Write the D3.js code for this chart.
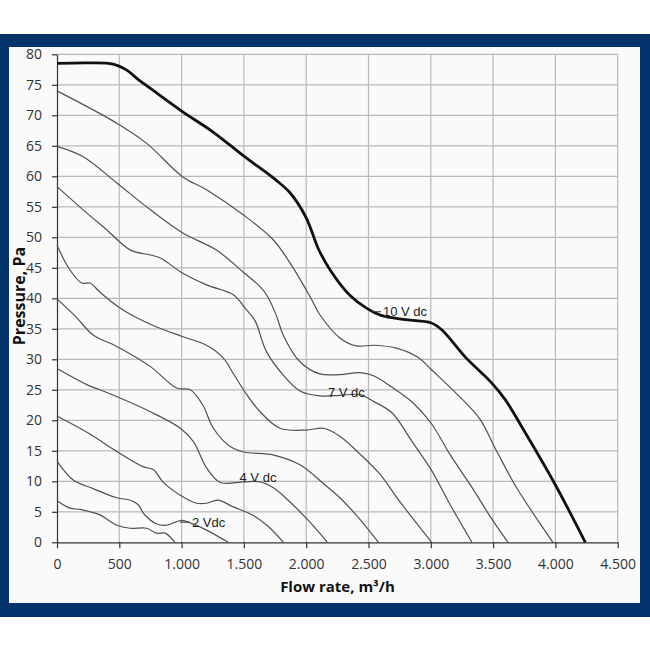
<!DOCTYPE html>
<html>
<head>
<meta charset="utf-8">
<script src="https://cdn.jsdelivr.net/npm/d3@7"></script>
<style>
  html, body { margin: 0; padding: 0; background: #ffffff; }
  svg { display: block; }
</style>
</head>
<body>
<svg id="chart" width="650" height="650"></svg>
<script>
// ---- Data: [flow rate m3/h, pressure Pa] ----
const v10 = [[0,78.5],[250,78.6],[450,78.4],[560,77.4],[650,75.9],[750,74.4],[1000,70.7],[1250,67.3],[1500,63.3],[1750,59.5],[1870,57.3],[2000,53.2],[2100,48.0],[2200,44.4],[2350,40.5],[2490,38.3],[2600,37.2],[2800,36.5],[3000,36.0],[3090,34.8],[3275,30.4],[3490,26.1],[3600,23.3],[3760,17.9],[4000,9.4],[4240,0]];
const v9  = [[0,74.0],[480,68.7],[720,65.4],[1010,59.9],[1200,57.8],[1500,53.6],[1735,49.6],[1870,45.8],[2030,40.3],[2110,37.3],[2270,33.5],[2400,32.2],[2550,32.3],[2730,31.8],[2900,30.3],[3000,28.4],[3210,24.3],[3390,20.3],[3530,14.9],[3690,8.9],[3980,0]];
const v8  = [[0,64.9],[210,63.2],[480,58.9],[750,54.5],[1010,50.7],[1280,47.9],[1500,44.2],[1630,41.9],[1690,40.3],[1760,37.2],[1815,34.0],[1950,29.6],[2110,27.6],[2270,27.5],[2430,27.8],[2540,27.3],[2690,25.4],[2850,23.0],[3000,19.6],[3160,14.2],[3330,9.0],[3490,3.8],[3620,0]];
const v7  = [[0,58.3],[210,54.5],[400,51.2],[590,47.9],[750,47.1],[830,46.6],[1010,44.1],[1200,42.2],[1415,40.6],[1510,38.4],[1590,36.3],[1680,31.3],[1816,27.4],[1950,24.8],[2110,24.0],[2270,24.1],[2430,24.2],[2540,23.1],[2690,21.2],[2850,16.5],[3000,12.0],[3160,6.0],[3330,0]];
const v6  = [[0,48.7],[105,44.6],[200,42.5],[265,42.5],[345,41.0],[506,38.4],[640,36.8],[800,35.3],[1010,33.7],[1200,32.3],[1335,30.2],[1420,27.5],[1510,24.6],[1630,21.4],[1790,18.7],[2000,18.4],[2140,18.7],[2270,17.4],[2430,14.5],[2590,11.2],[2750,6.7],[3007,0]];
const v5  = [[0,39.9],[150,37.0],[290,34.0],[480,32.1],[750,28.8],[960,25.3],[1070,25.0],[1170,22.5],[1255,18.7],[1390,15.7],[1500,14.8],[1740,14.3],[1950,12.7],[2140,9.6],[2270,7.3],[2400,4.5],[2580,0]];
const v4  = [[0,28.5],[265,25.6],[345,25.0],[750,21.4],[990,18.7],[1095,16.5],[1200,12.2],[1310,9.8],[1500,9.9],[1630,9.9],[1740,8.9],[1870,6.6],[2030,3.3],[2170,0]];
const v3  = [[0,20.7],[260,17.8],[480,14.9],[690,12.4],[775,11.9],[850,9.9],[990,7.7],[1120,6.4],[1200,6.4],[1290,6.9],[1415,5.8],[1575,4.4],[1700,2.5],[1817,0]];
const v2  = [[0,13.3],[130,10.2],[290,8.8],[480,7.3],[590,6.9],[650,6.2],[700,4.6],[800,3.0],[880,2.8],[1000,3.6],[1080,3.1],[1200,2.0],[1374,0]];
const v1  = [[0,6.8],[104,5.6],[185,5.4],[265,5.0],[345,4.5],[480,2.8],[586,2.3],[720,2.3],[800,1.5],[867,1.5],[947,0]];

const thinSeries = [v9, v8, v7, v6, v5, v4, v3, v2, v1];
const thickSeries = v10;

const xTicks = [0,500,1000,1500,2000,2500,3000,3500,4000,4500];
const yTicks = [0,5,10,15,20,25,30,35,40,45,50,55,60,65,70,75,80];
const xTitle = "Flow rate, m³/h";
const yTitle = "Pressure, Pa";

// label text, anchor point (data) and optional leader line (data)
const labelTexts  = ["10 V dc", "7 V dc", "4 V dc", "2 Vdc"];
const labelPoints = [[2616,37.1],[2175,23.8],[1465,9.9],[1083,2.5]];
const leaderLines = [[[2520,37.8],[2600,37.8]], null, null, [[987,3.3],[1068,3.3]]];

// ---- Drawing ----
const svg = d3.select("#chart");
const W = 650;

// frame
svg.append("rect").attr("x",0).attr("y",34).attr("width",W).attr("height",583).attr("fill","#02336b");
svg.append("rect").attr("x",9).attr("y",47).attr("width",631).attr("height",556).attr("fill","#fafafa");

const pL = 57, pR = 617.7, pT = 54.3, pB = 542.3;
const x = d3.scaleLinear().domain([0,4500]).range([pL,pR]);
const y = d3.scaleLinear().domain([0,80]).range([pB,pT]);

// grid
const grid = svg.append("g").attr("stroke","#b9b9b9").attr("stroke-width",1.2);
grid.selectAll("line.v").data(xTicks.filter(d=>d>0)).join("line").attr("class","v")
  .attr("x1",d=>x(d)).attr("x2",d=>x(d)).attr("y1",y(0)).attr("y2",y(80));
grid.selectAll("line.h").data(yTicks.filter(d=>d>0)).join("line").attr("class","h")
  .attr("x1",x(0)).attr("x2",x(4500)).attr("y1",d=>y(d)).attr("y2",d=>y(d));

const fmt = d => d3.format(",")(d).replace(/,/g,".");

// axes
const xAxis = svg.append("g").attr("transform",`translate(0,${pB})`)
  .call(d3.axisBottom(x).tickValues(xTicks).tickFormat(fmt).tickSize(6).tickSizeOuter(0).tickPadding(11));
const yAxis = svg.append("g").attr("transform",`translate(${pL},0)`)
  .call(d3.axisLeft(y).tickValues(yTicks).tickSize(5).tickSizeOuter(0).tickPadding(10));
[xAxis, yAxis].forEach(a => {
  a.select(".domain").attr("stroke","#333").attr("stroke-width",1.2);
  a.selectAll(".tick line").attr("stroke","#333").attr("stroke-width",1.2);
  a.selectAll(".tick text").attr("fill","#333")
    .style("font-family","'Open Sans', sans-serif").style("font-size","14px");
});

// curves
const line = d3.line().x(d=>x(d[0])).y(d=>y(d[1])).curve(d3.curveCatmullRom.alpha(0.5));
svg.append("g").selectAll("path").data(thinSeries).join("path")
  .attr("d", line).attr("fill","none").attr("stroke","#505050").attr("stroke-width",1.2);
svg.append("path").datum(thickSeries).attr("d", line)
  .attr("fill","none").attr("stroke","#111").attr("stroke-width",2.8);

// labels
const lab = svg.append("g");
leaderLines.forEach(l => {
  if (!l) return;
  lab.append("line").attr("x1",x(l[0][0])).attr("y1",y(l[0][1]))
    .attr("x2",x(l[1][0])).attr("y2",y(l[1][1]))
    .attr("stroke","#333").attr("stroke-width",1);
});
lab.selectAll("text").data(labelTexts).join("text")
  .attr("x",(d,i)=>x(labelPoints[i][0])).attr("y",(d,i)=>y(labelPoints[i][1]))
  .attr("fill","#222").style("font-family","'Liberation Sans', Arial, sans-serif")
  .style("font-size","13px").text(d=>d);

// axis titles
svg.append("text").attr("x",337.5).attr("y",592).attr("text-anchor","middle")
  .style("font-family","'Open Sans', sans-serif").style("font-size","15px").style("font-weight","bold")
  .attr("fill","#111").text(xTitle);
svg.append("text").attr("transform","translate(25,296) rotate(-90)").attr("text-anchor","middle")
  .style("font-family","'Open Sans', sans-serif").style("font-size","16px").style("font-weight","bold")
  .attr("fill","#111").text(yTitle);
</script>
</body>
</html>
